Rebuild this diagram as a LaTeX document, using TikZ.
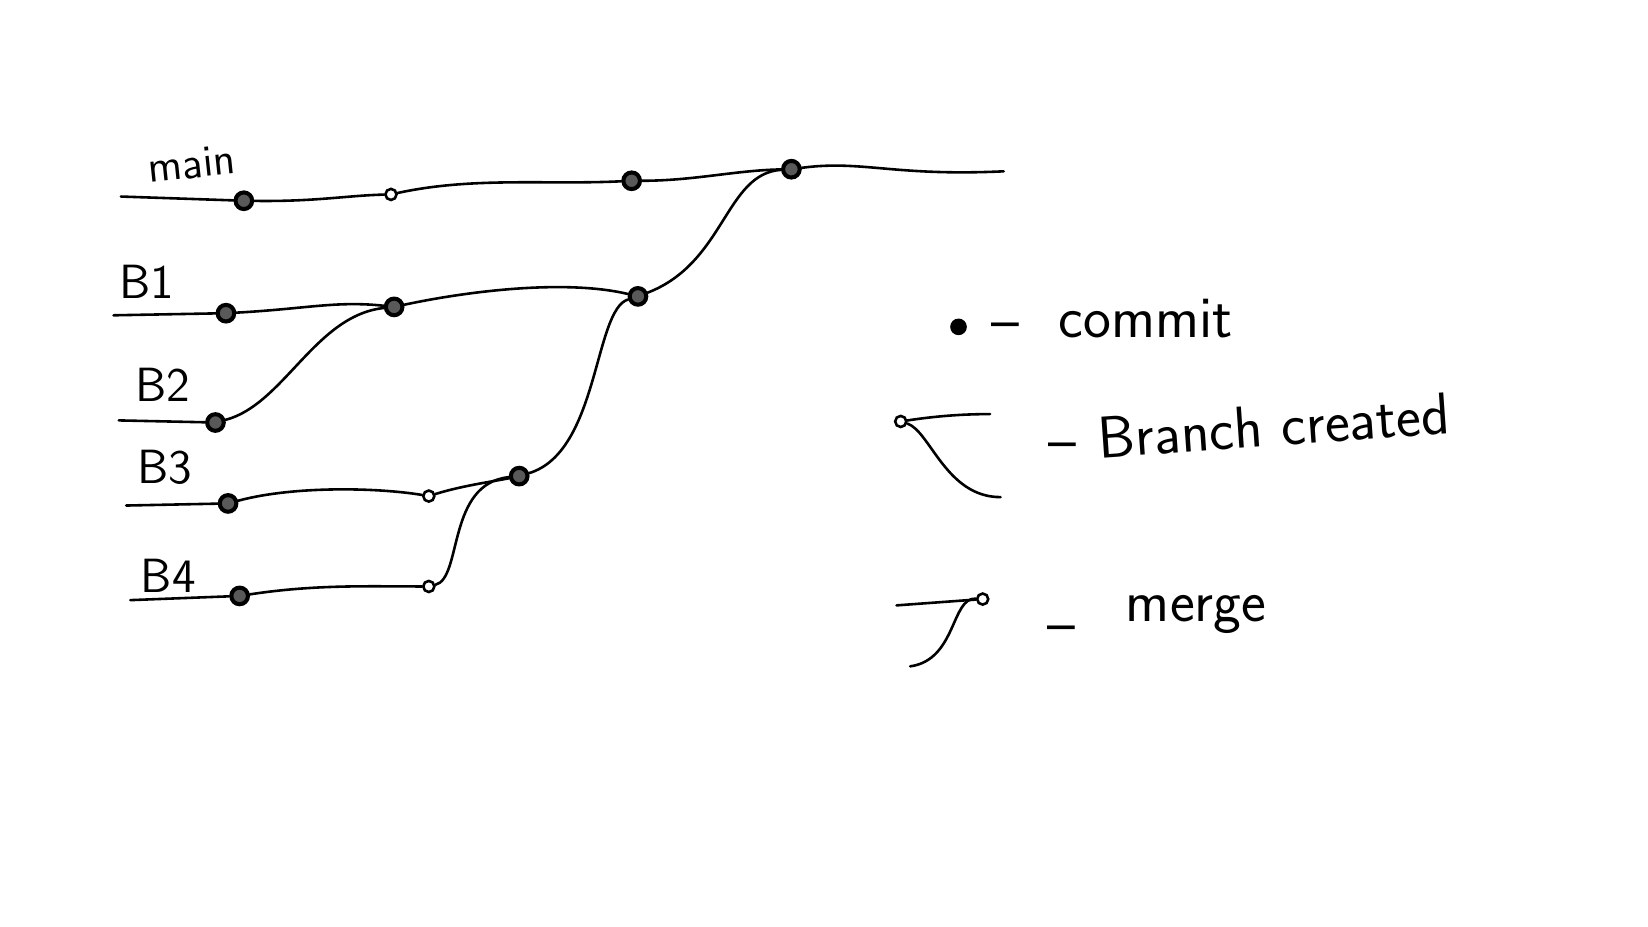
\documentclass[tikz,border=0pt]{standalone}
\usepackage{tikz}

\begin{document}
\begin{tikzpicture}[x=.01cm,y=-.01cm,line width=.7pt,line cap=round,font=\sffamily\fontsize{13}{15}\selectfont]
\tikzset{commit/.style={circle,draw,line width=1.1pt,fill=black!65,inner sep=0pt,minimum size=4.5pt},
  tick/.style={circle,draw,line width=.7pt,inner sep=0pt,minimum size=3pt},
  key/.style={font=\sffamily\fontsize{16}{18}\selectfont}}
\useasboundingbox (0,0) rectangle (1568,882);
\coordinate (m0) at (115,187);
\node[commit] (m1) at (232,191) {};
\node[tick] (m2) at (372,185) {};
\node[commit] (m3) at (601,172) {};
\node[commit] (m4) at (753,161) {};
\coordinate (m5) at (955,163);
\draw (m0) -- (m1);
\draw (m1) .. controls (300,192) and (330,186) .. (m2);
\draw (m2) .. controls (450,168) and (520,176) .. (m3);
\draw (m3) .. controls (660,172) and (700,162) .. (m4);
\draw (m4) .. controls (820,152) and (850,168) .. (m5);
\coordinate (b1s) at (108,300);
\node[commit] (b1c1) at (215,298) {};
\node[commit] (b1c2) at (375,292) {};
\node[commit] (b1c3) at (607,282) {};
\draw (b1s) -- (b1c1);
\draw (b1c1) .. controls (290,294) and (320,286) .. (b1c2);
\draw (b1c2) .. controls (450,276) and (540,266) .. (b1c3);
\draw (b1c3) .. controls (690,250) and (690,165) .. (m4);
\coordinate (b2s) at (113,400);
\node[commit] (b2c1) at (205,402) {};
\draw (b2s) -- (b2c1);
\draw (b2c1) .. controls (270,385) and (300,300) .. (b1c2);
\coordinate (b3s) at (120,481);
\node[commit] (b3c1) at (217,479) {};
\node[tick] (b3c2) at (408,472) {};
\node[commit] (b3c3) at (494,453) {};
\draw (b3s) -- (b3c1);
\draw (b3c1) .. controls (280,462) and (360,464) .. (b3c2);
\draw (b3c2) .. controls (440,462) and (470,458) .. (b3c3);
\draw (b3c3) .. controls (570,430) and (565,295) .. (b1c3);
\coordinate (b4s) at (124,571);
\node[commit] (b4c1) at (228,567) {};
\node[tick] (b4c2) at (408,558) {};
\draw (b4s) -- (b4c1);
\draw (b4c1) .. controls (300,556) and (350,558) .. (b4c2);
\draw (b4c2) .. controls (440,550) and (425,460) .. (b3c3);
\node[rotate=6,font=\sffamily\fontsize{12}{14}\selectfont] (lmain) at (182,156) {main};
\node (lb1) at (140,268) {B1};
\node (lb2) at (155,366) {B2};
\node (lb3) at (157,445) {B3};
\node (lb4) at (160,548) {B4};
\node[circle,fill,inner sep=0pt,minimum size=4.5pt] (kc) at (912,311) {};
\node[key] (kcdash) at (957,316) {--};
\node[key] (kctext) at (1090,303) {commit};
\node[tick] (kb0) at (857,401) {};
\coordinate (kb1) at (942,394);
\coordinate (kb2) at (952,473);
\draw (kb0) .. controls (890,396) and (915,394) .. (kb1);
\draw (kb0) .. controls (885,410) and (900,473) .. (kb2);
\node[key] (kbdash) at (1011,430) {--};
\node[key,rotate=4] (kbtext) at (1212,405) {Branch created};
\coordinate (kg0) at (853,576);
\node[tick] (kg1) at (935,570) {};
\coordinate (kg2) at (866,634);
\draw (kg0) -- (kg1);
\draw (kg1) .. controls (905,568) and (910,628) .. (kg2);
\node[key] (kgdash) at (1010,604) {--};
\node[key] (kgtext) at (1138,585) {merge};
\end{tikzpicture}
\end{document}
